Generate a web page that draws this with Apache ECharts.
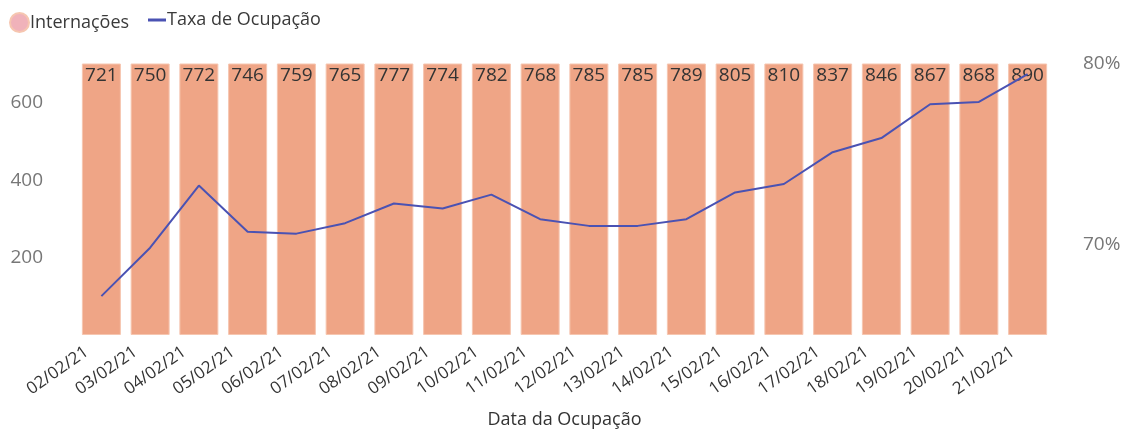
<!DOCTYPE html>
<html>
<head>
<meta charset="utf-8">
<script src="https://cdn.jsdelivr.net/npm/echarts@6/dist/echarts.min.js"></script>
<style>
html,body{margin:0;padding:0;background:#fff;}
#c{width:1130px;height:429px;}
</style>
</head>
<body>
<div id="c"></div>
<script>
const categories = ['02/02/21','03/02/21','04/02/21','05/02/21','06/02/21','07/02/21','08/02/21','09/02/21','10/02/21','11/02/21','12/02/21','13/02/21','14/02/21','15/02/21','16/02/21','17/02/21','18/02/21','19/02/21','20/02/21','21/02/21'];
const internacoes = [721,750,772,746,759,765,777,774,782,768,785,785,789,805,810,837,846,867,868,890];
const taxaOcupacao = [67.15,69.83,73.27,70.72,70.61,71.19,72.28,72.0,72.77,71.41,71.04,71.04,71.41,72.89,73.36,75.12,75.9,77.77,77.9,79.44];
const leftTicks = [200,400,600];
const rightTicks = [70,80];

const FONT = '"Open Sans", "Noto Sans", sans-serif';
const chart = echarts.init(document.getElementById('c'), null, {renderer:'canvas'});
chart.setOption({
  animation: false,
  textStyle: {fontFamily: FONT},
  legend: [
    {
      data: [{name:'Internações', icon:'circle', itemStyle:{color:'#f0b2ba'}}],
      left: 4, top: 7, itemWidth: 19, itemHeight: 19, itemGap: 4,
      textStyle: {fontSize: 18, color: '#3a3a3a', fontFamily: FONT, padding:[0,0,0,-4]}
    },
    {
      data: [{name:'Taxa de Ocupação', icon:'rect', itemStyle:{color:'#4a52b3'}}],
      left: 143, top: 6, itemWidth: 18, itemHeight: 3, itemGap: 4,
      textStyle: {fontSize: 18, color: '#3a3a3a', fontFamily: FONT, padding:[0,0,0,-4]}
    }
  ],
  grid: {left: 77, right: 78, top: 64, bottom: 94, containLabel: false, outerBoundsMode: 'none'},
  xAxis: {
    type: 'category',
    data: categories,
    axisLine: {show: false},
    axisTick: {show: false},
    axisLabel: {rotate: 35, fontSize: 17, color: '#333', margin: 5, interval: 0, fontFamily: FONT, padding: [0, 18, 0, 0]},
    name: 'Data da Ocupação',
    nameLocation: 'middle',
    nameGap: 76,
    nameTextStyle: {fontSize: 18, color: '#333', fontFamily: FONT}
  },
  yAxis: [
    {
      type: 'value', min: 0, max: 700, interval: 100,
      splitLine: {show: false}, axisLine: {show: false}, axisTick: {show: false},
      axisLabel: {
        fontSize: 19, color: '#777', margin: 34, fontFamily: FONT,
        formatter: v => leftTicks.indexOf(v) >= 0 ? String(v) : ''
      }
    },
    {
      type: 'value', min: 65, max: 80, interval: 5,
      splitLine: {show: false}, axisLine: {show: false}, axisTick: {show: false},
      axisLabel: {
        fontSize: 19, color: '#777', margin: 31, fontFamily: FONT,
        formatter: v => rightTicks.indexOf(v) >= 0 ? v + '%' : ''
      }
    }
  ],
  series: [
    {
      name: 'Internações',
      type: 'bar',
      data: internacoes,
      yAxisIndex: 0,
      clip: true,
      barCategoryGap: '20%',
      itemStyle: {color: '#efa586', borderColor: '#f6c6b0', borderWidth: 1},
      label: {show: true, position: 'insideTop', distance: 3, fontSize: 19, color: '#333', fontFamily: FONT},
      z: 2
    },
    {
      name: 'Taxa de Ocupação',
      type: 'line',
      data: taxaOcupacao,
      yAxisIndex: 1,
      showSymbol: false,
      symbol: 'none',
      lineStyle: {color: '#4a52b3', width: 2},
      itemStyle: {color: '#4a52b3'},
      z: 3
    }
  ]
});
</script>
</body>
</html>
